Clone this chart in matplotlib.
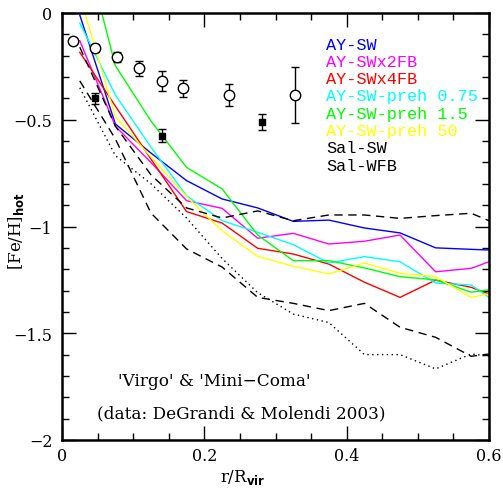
import matplotlib
matplotlib.use("Agg")
import matplotlib.pyplot as plt
from matplotlib.ticker import MultipleLocator

# ---- data ----
r_sim = [0.025, 0.075, 0.125, 0.175, 0.225, 0.275, 0.325, 0.375, 0.425, 0.475, 0.525, 0.575, 0.6]

ay_sw       = [-0.01, -0.52, -0.656, -0.785, -0.871, -0.913, -0.976, -0.970, -1.007, -1.030, -1.100, -1.107, -1.110]
ay_swx2fb   = [-0.13, -0.53, -0.700, -0.879, -0.915, -1.055, -1.032, -1.082, -1.069, -1.040, -1.212, -1.196, -1.165]
ay_swx4fb   = [-0.184, -0.436, -0.684, -0.930, -0.984, -1.102, -1.129, -1.176, -1.261, -1.332, -1.251, -1.285, -1.316]
ay_preh075  = [-0.047, -0.384, -0.628, -0.856, -0.973, -1.027, -1.085, -1.171, -1.141, -1.165, -1.265, -1.274, -1.332]
ay_preh15   = [0.40, -0.247, -0.506, -0.723, -0.824, -1.040, -1.160, -1.160, -1.194, -1.235, -1.250, -1.308, -1.296]
ay_preh50   = [0.08, -0.487, -0.674, -0.860, -1.020, -1.140, -1.186, -1.222, -1.171, -1.219, -1.235, -1.332, -1.316]
sal_sw      = [-0.16, -0.53, -0.758, -0.913, -0.960, -0.927, -0.973, -0.946, -0.946, -0.962, -0.949, -0.938, -0.973]
sal_wfb     = [-0.318, -0.590, -0.937, -1.105, -1.190, -1.332, -1.360, -1.394, -1.360, -1.472, -1.519, -1.608, -1.597]
sal_dot     = [-0.35, -0.668, -0.800, -0.960, -1.150, -1.310, -1.410, -1.450, -1.600, -1.600, -1.667, -1.597, -1.607]

# observations (DeGrandi & Molendi 2003)
r_open   = [0.0155, 0.0464, 0.0773, 0.108, 0.140, 0.170, 0.235, 0.327]
fe_open  = [-0.132, -0.164, -0.206, -0.259, -0.320, -0.353, -0.384, -0.383]
err_open = [0.015, 0.020, 0.025, 0.036, 0.046, 0.041, 0.053, 0.130]

r_fill   = [0.0464, 0.140, 0.281]
fe_fill  = [-0.400, -0.575, -0.509]
err_fill = [0.027, 0.031, 0.037]

labels = ["AY-SW", "AY-SWx2FB", "AY-SWx4FB", "AY-SW-preh 0.75",
          "AY-SW-preh 1.5", "AY-SW-preh 50", "Sal-SW", "Sal-WFB"]
label_colors = ["#0000ff", "#ff00ff", "#ff0000", "#00ffff",
                "#00ff00", "#ffff00", "black", "black"]

# ---- figure ----
fig = plt.figure(figsize=(5.03, 4.89), dpi=100)
ax = fig.add_axes([62/503, 1-441/489, 427/503, 427/489])

serif = "DejaVu Serif"
mono = "Liberation Mono"

series = [ay_sw, ay_swx2fb, ay_swx4fb, ay_preh075, ay_preh15, ay_preh50]
for vals, c in zip(series, label_colors[:6]):
    ax.plot(r_sim, vals, color=c, lw=1.0)

ax.plot(r_sim, sal_sw, color="black", lw=1.0, dashes=(6, 4))
ax.plot(r_sim, sal_wfb, color="black", lw=1.0, dashes=(6, 4))
ax.plot(r_sim, sal_dot, color="black", lw=1.0, dashes=(1, 2.5))

ax.errorbar(r_open, fe_open, yerr=err_open, fmt="o", mfc="white", mec="black",
            ms=7.5, mew=1.0, ecolor="black", elinewidth=1.0, capsize=3, capthick=1.0, zorder=5)
ax.errorbar(r_fill, fe_fill, yerr=err_fill, fmt="s", mfc="black", mec="black",
            ms=5, ecolor="black", elinewidth=1.0, capsize=3, capthick=1.0, zorder=5)

ax.set_xlim(0, 0.6)
ax.set_ylim(-2, 0)
ax.xaxis.set_major_locator(MultipleLocator(0.2))
ax.xaxis.set_minor_locator(MultipleLocator(0.05))
ax.yaxis.set_major_locator(MultipleLocator(0.5))
ax.yaxis.set_minor_locator(MultipleLocator(0.1))
ax.tick_params(which="both", direction="in", top=True, right=True, width=1.0)
ax.tick_params(which="major", length=10)
ax.tick_params(which="minor", length=5)
ax.tick_params(axis="x", pad=5)
ax.tick_params(axis="y", pad=7)
for s in ax.spines.values():
    s.set_linewidth(1.8)

ax.xaxis.set_major_formatter(plt.FuncFormatter(lambda v, p: "0" if abs(v) < 1e-9 else f"{v:g}"))
ax.yaxis.set_major_formatter(plt.FuncFormatter(lambda v, p: "0" if abs(v) < 1e-9 else f"{v:g}".replace("-", "\u2212")))
for lab in ax.get_xticklabels() + ax.get_yticklabels():
    lab.set_fontfamily(serif)
    lab.set_fontsize(11.5)

fig.text(243/503, 1 - 478/489, r"r/R$_{\mathbf{vir}}$", fontfamily=serif, fontsize=12,
         ha="center", va="center")
fig.text(16/503, 1 - 231/489, r"[Fe/H]$_{\mathbf{hot}}$", fontfamily=serif, fontsize=12,
         ha="center", va="center", rotation=90)

for i, (t, c) in enumerate(zip(labels, label_colors)):
    fig.text(326/503, 1 - (45 + i*17.3)/489, t, color=c,
             fontfamily=mono, fontsize=12.2, va="center", ha="left")

fig.text(118/503, 1 - 382/489, "'Virgo' & 'Mini\u2212Coma'",
         fontfamily=serif, fontsize=12.2, va="center", ha="left")
fig.text(97/503, 1 - 414/489, "(data: DeGrandi & Molendi 2003)",
         fontfamily=serif, fontsize=12.2, va="center", ha="left")

fig.savefig("out.png", dpi=100)
